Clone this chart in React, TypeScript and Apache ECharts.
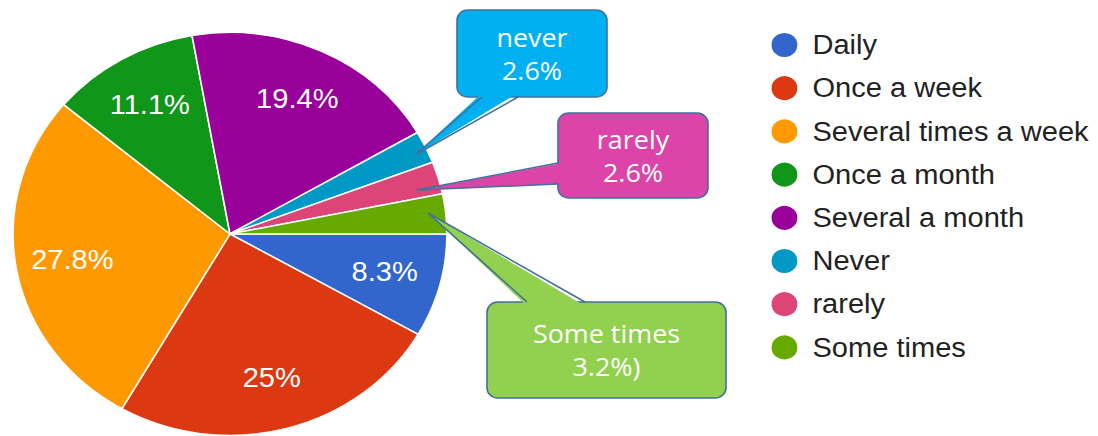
import React, { useEffect, useRef } from "react";
import * as echarts from "echarts";

// ---- data ----
const categories = [
  "Daily",
  "Once a week",
  "Several times a week",
  "Once a month",
  "Several a month",
  "Never",
  "rarely",
  "Some times",
];
const values = [8.3, 25, 27.8, 11.1, 19.4, 2.6, 2.6, 3.2];
const innerLabels = ["8.3%", "25%", "27.8%", "11.1%", "19.4%", "", "", ""];
const sliceColors = [
  "#3366cc",
  "#dc3912",
  "#ff9900",
  "#109618",
  "#990099",
  "#0099c6",
  "#dd4477",
  "#66aa00",
];
const calloutTexts = ["never\n2.6%", "rarely\n2.6%", "Some times\n3.2%)"];

// ---- layout (reference pixel space; x is divided by stretch) ----
const STRETCH = 1.0765;
const W = 1020;
const H = 436;
const calloutLayout = [
  {
    fill: "#00b0f0",
    box: [457, 10, 150, 87],
    poly: [[482, 93], [518, 93], [415, 155]],
    line: [[482, 97], [415, 155], [518, 97]],
  },
  {
    fill: "#dd44aa",
    box: [558, 113, 150, 85],
    poly: [[562, 163], [562, 184], [417, 190]],
    line: [[558, 163], [417, 190], [558, 184]],
  },
  {
    fill: "#92d050",
    box: [487, 302, 239, 96],
    poly: [[527, 306], [585, 306], [428, 213]],
    line: [[527, 302], [428, 213], [585, 302]],
  },
];

const sx = (x: number) => x / STRETCH;
const pt = (p: number[]) => [sx(p[0]), p[1]];

export default function App() {
  const ref = useRef<HTMLDivElement>(null);

  useEffect(() => {
    if (!ref.current) return;
    const chart = echarts.init(ref.current, null, { renderer: "svg" });
    const center = [sx(230), 234];
    const R = 201.5;
    const font = 'Arial, "Liberation Sans", sans-serif';

    const graphics: any[] = [];
    calloutLayout.forEach((c, i) => {
      const [bx, by, bw, bh] = c.box;
      graphics.push({
        type: "rect",
        z: 10,
        shape: { x: sx(bx), y: by, width: sx(bw), height: bh, r: 10 },
        style: { fill: c.fill, stroke: "#41719c", lineWidth: 1.5 },
      });
      graphics.push({
        type: "polygon",
        z: 10,
        shape: { points: c.poly.map(pt) },
        style: { fill: c.fill, stroke: null, lineWidth: 0 },
      });
      graphics.push({
        type: "polyline",
        z: 10,
        shape: { points: c.line.map(pt) },
        style: { fill: null, stroke: "#41719c", lineWidth: 1.5 },
      });
      graphics.push({
        type: "text",
        z: 11,
        x: sx(bx + bw / 2),
        y: by + bh / 2,
        style: {
          text: calloutTexts[i],
          fill: "#ffffff",
          fontSize: 25,
          fontFamily: '"Open Sans", sans-serif',
          lineHeight: 33,
          align: "center",
          verticalAlign: "middle",
        },
      });
    });

    chart.setOption({
      animation: false,
      backgroundColor: "#ffffff",
      color: sliceColors,
      legend: {
        orient: "vertical",
        left: sx(764),
        top: 26,
        icon: "circle",
        itemWidth: 26,
        itemHeight: 27,
        itemGap: 15.2,
        selectedMode: false,
        data: categories,
        textStyle: {
          fontSize: 27,
          lineHeight: 28,
          color: "#222222",
          fontFamily: font,
          padding: [0, 0, 0, 8],
        },
      },
      series: [
        {
          type: "pie",
          center,
          radius: [0, R],
          startAngle: 0,
          clockwise: true,
          silent: true,
          label: { show: false },
          labelLine: { show: false },
          itemStyle: { borderColor: "#ffffff", borderWidth: 1.5 },
          data: categories.map((c, i) => ({
            name: c,
            value: values[i],
            itemStyle: { color: sliceColors[i] },
          })),
        },
        {
          type: "pie",
          center,
          radius: [90, R],
          startAngle: 0,
          clockwise: true,
          silent: true,
          z: 3,
          itemStyle: { color: "rgba(0,0,0,0)", borderWidth: 0 },
          labelLine: { show: false },
          label: {
            show: true,
            position: "inside",
            color: "#ffffff",
            fontSize: 27,
            fontFamily: font,
            formatter: (p: any) => innerLabels[p.dataIndex],
          },
          data: categories.map((c, i) => ({
            name: c + " label",
            value: values[i],
            label: { show: innerLabels[i] !== "" },
          })),
        },
      ],
      graphic: graphics,
    });

    return () => chart.dispose();
  }, []);

  return (
    <div
      ref={ref}
      style={{
        position: "absolute",
        left: 0,
        top: 0,
        width: W,
        height: H,
        transform: `scaleX(${STRETCH})`,
        transformOrigin: "left top",
      }}
    />
  );
}
